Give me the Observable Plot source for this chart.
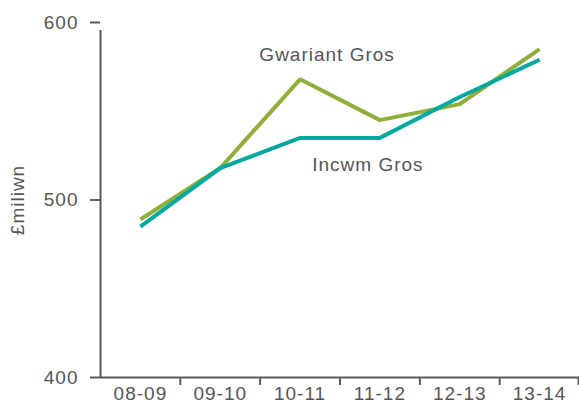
<!DOCTYPE html>
<html><head><meta charset="utf-8">
<script src="https://cdn.jsdelivr.net/npm/d3@7"></script>
<script src="https://cdn.jsdelivr.net/npm/@observablehq/plot@0.6"></script>
<style>body{margin:0;background:#fff}</style>
</head><body><div id="chart"></div>
<script>
const years = ["08-09","09-10","10-11","11-12","12-13","13-14"];
const gwariant = [489, 518, 568, 545, 554, 585];
const incwm = [485, 518, 535, 535, 558, 579];
const yTicks = [400, 500, 600];
const seriesNames = ["Gwariant Gros", "Incwm Gros"];
const colors = ["#8fae3a", "#00a89f"];

const W = 579, H = 405, ML = 100, MR = 0, MT = 22, MB = 28;
const step = (W - ML - MR) / years.length;
const axisColor = "#5a5a5a";
const textColor = "#555555";

const gData = years.map((y, i) => ({year: y, value: gwariant[i]}));
const iData = years.map((y, i) => ({year: y, value: incwm[i]}));

const chart = Plot.plot({
  width: W, height: H,
  marginLeft: ML, marginRight: MR, marginTop: MT, marginBottom: MB,
  style: {fontFamily: "'Liberation Sans', Arial, sans-serif", fontSize: "19px", color: textColor, letterSpacing: "1px", background: "#fff"},
  x: {type: "point", domain: years, padding: 0.5, round: false, label: null},
  y: {domain: [400, 600], label: null},
  marks: [
    Plot.axisX({tickSize: 0, tickPadding: 9, label: null, fontSize: 19}),
    Plot.axisY({ticks: yTicks, tickSize: 10, tickPadding: 12, stroke: axisColor, strokeWidth: 2, label: null, fontSize: 19}),
    Plot.axisY({ticks: [], label: "£miliwn", labelAnchor: "center", labelOffset: 90, labelArrow: "none", fontSize: 19}),
    // left axis line
    Plot.ruleX([years[0]], {x: d => d, y1: 400, y2: 600, dx: -step / 2, insetBottom: -8, stroke: axisColor, strokeWidth: 2}),
    // category boundary ticks
    Plot.ruleX(years.slice(1), {x: d => d, y1: 400, y2: 400, dx: -step / 2, insetBottom: -8, stroke: axisColor, strokeWidth: 2}),
    Plot.ruleX([years[years.length - 1]], {x: d => d, y1: 400, y2: 400, dx: step / 2 - 1, insetBottom: -8, stroke: axisColor, strokeWidth: 2}),
    // bottom axis line
    Plot.ruleY([400], {stroke: axisColor, strokeWidth: 2}),
    Plot.line(gData, {x: "year", y: "value", stroke: colors[0], strokeWidth: 4, strokeLinejoin: "miter", strokeLinecap: "butt"}),
    Plot.line(iData, {x: "year", y: "value", stroke: colors[1], strokeWidth: 4, strokeLinejoin: "miter", strokeLinecap: "butt"}),
    Plot.text([seriesNames[0]], {x: () => years[2], y: () => 582, text: d => d, dx: 27, fill: textColor, fontSize: 19}),
    Plot.text([seriesNames[1]], {x: () => years[3], y: () => 520, text: d => d, dx: -12, fill: textColor, fontSize: 19})
  ]
});
document.getElementById("chart").appendChild(chart);
</script>
</body></html>
